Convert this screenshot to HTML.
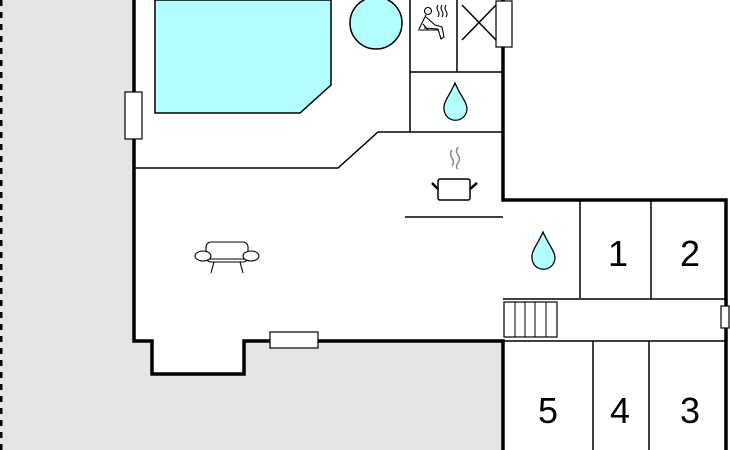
<!DOCTYPE html>
<html><head><style>html,body{margin:0;padding:0;background:#fff}svg{display:block}</style></head>
<body>
<svg width="730" height="450" viewBox="0 0 730 450" xmlns="http://www.w3.org/2000/svg">
<rect x="0" y="0" width="134" height="450" fill="#e5e5e5"/>
<rect x="134" y="341" width="369" height="109" fill="#e5e5e5"/>
<polygon points="152,341 244,341 244,374 152,374" fill="#fff"/>
<line x1="1" y1="0" x2="1" y2="450" stroke="#000" stroke-width="3" stroke-dasharray="6,6"/>
<polygon points="155,0 331,0 331,85 300,113 155,113" fill="#b3ffff" stroke="#000" stroke-width="1.5"/>
<circle cx="376" cy="23" r="26" fill="#b3ffff" stroke="#000" stroke-width="1.5"/>
<g stroke="#000" stroke-width="3.5" fill="none" stroke-linejoin="miter">
<polyline points="134,0 134,341 152,341 152,374 244,374 244,341 503,341 503,450"/>
<polyline points="503,0 503,200 726,200 726,450"/>
</g>
<g stroke="#000" stroke-width="1.5" fill="none">
<line x1="410" y1="0" x2="410" y2="132"/>
<line x1="457" y1="0" x2="457" y2="72"/>
<line x1="410" y1="72" x2="503" y2="72"/>
<polyline points="503,132 378,132 338,168 134,168"/>
<line x1="405" y1="217" x2="503" y2="217"/>
<line x1="503" y1="299" x2="726" y2="299"/>
<line x1="503" y1="341" x2="726" y2="341"/>
<line x1="580" y1="200" x2="580" y2="298"/>
<line x1="651" y1="200" x2="651" y2="299"/>
<line x1="593" y1="341" x2="593" y2="450"/>
<line x1="649" y1="341" x2="649" y2="450"/>
<line x1="462" y1="5" x2="496" y2="40"/>
<line x1="462" y1="40" x2="496" y2="5"/>
</g>
<g fill="#fff" stroke="#000" stroke-width="1.2">
<rect x="125" y="92" width="17" height="47"/>
<rect x="496" y="1" width="16" height="46"/>
<rect x="270" y="332" width="48" height="16"/>
<rect x="721" y="306" width="8" height="22"/>
<rect x="504" y="302" width="53" height="35"/>
</g>
<g stroke="#000" stroke-width="1">
<line x1="515" y1="302" x2="515" y2="337"/><line x1="525" y1="302" x2="525" y2="337"/>
<line x1="535" y1="302" x2="535" y2="337"/><line x1="546" y1="302" x2="546" y2="337"/>
</g>
<g fill="#b3ffff" stroke="#000" stroke-width="1.3">
<path d="M455,83 C450,95 443,102 444,109 C445,124 466,124 467,109 C467,102 460,95 455,83Z"/>
<path d="M543,232 C538,244 531,251 532,258 C533,273 554,273 555,258 C555,251 548,244 543,232Z"/>
</g>
<g stroke="#000" stroke-width="1.1" fill="none">
<circle cx="428" cy="11" r="3.5"/>
<path d="M426,15 L423,21 L419,29 M426,17 L435,25 L442,27 L444,37 L441,39 L438,29 L424,28 M418,30 L438,30 M423,24 L428,30"/>
<path d="M438,5 q-2,3 0,6 q2,3 0,6 M442,5 q-2,3 0,6 q2,3 0,6 M446,5 q-2,3 0,6 q2,3 0,6"/>
</g>
<g stroke="#000" fill="none">
<rect x="438" y="179" width="32" height="21" rx="2" stroke-width="1.5"/>
<line x1="432" y1="183" x2="438" y2="189" stroke-width="2.5"/>
<line x1="470" y1="189" x2="477" y2="183" stroke-width="2.5"/>
<path d="M452,150 q-3,4 0,8 q3,4 0,8 M458,147 q-3,4 0,8 q3,4 0,8 q-3,4 0,6" stroke="#888" stroke-width="1.5"/>
</g>
<g stroke="#000" stroke-width="1.1" fill="#fff">
<rect x="206" y="242" width="42" height="20" rx="5"/>
<ellipse cx="203" cy="256" rx="8" ry="5"/>
<ellipse cx="251" cy="256" rx="8" ry="5"/>
<line x1="210" y1="259" x2="245" y2="259"/>
<line x1="214" y1="262" x2="211" y2="273"/>
<line x1="240" y1="262" x2="243" y2="273"/>
</g>
<g font-family="Liberation Sans, sans-serif" font-size="36" text-anchor="middle" fill="#000">
<text x="618" y="266">1</text>
<text x="690" y="266">2</text>
<text x="548" y="423">5</text>
<text x="620" y="423">4</text>
<text x="690" y="423">3</text>
</g>
</svg>
</body></html>
